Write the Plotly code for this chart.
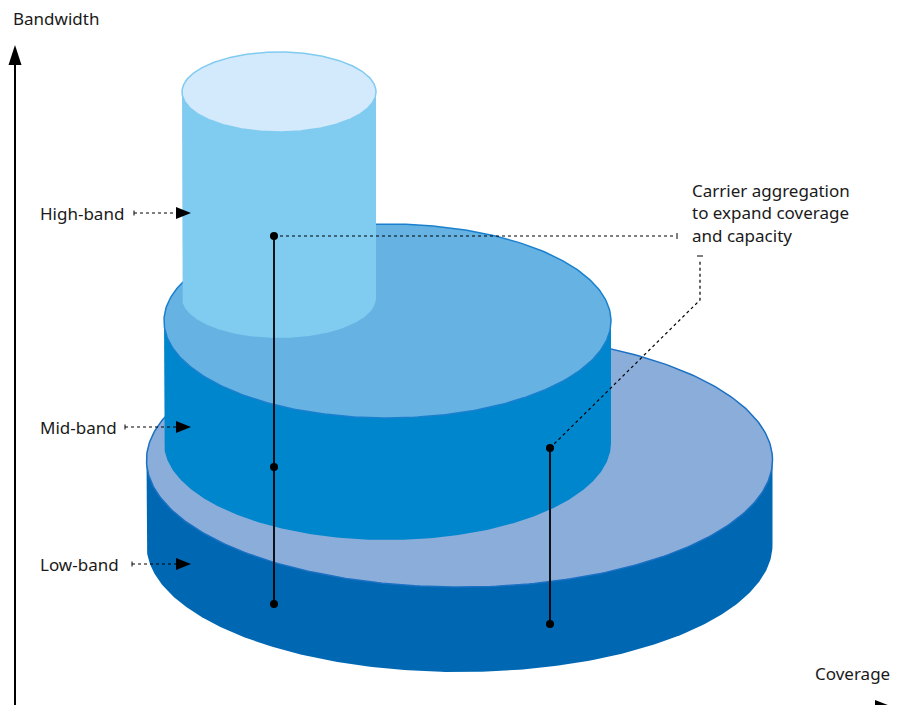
import numpy as np
import plotly.graph_objects as go

# Spectrum layers: coverage (cylinder half-width) and bandwidth (cylinder height)
bands = ["Low-band", "Mid-band", "High-band"]
coverage = [313, 223.5, 97]
bandwidth = [85, 122, 206]

# Placement of each cylinder on the canvas (centre x, centre y of top face, tilt)
center_x = [459.5, 387.5, 279]
top_y = [460, 321, 92]
tilt = [0.406, 0.434, 0.412]

side_colors = ["#0068B3", "#0086CD", "#80CBF0"]
top_colors = ["#8BADDA", "#66B2E2", "#D3E9FC"]
edge_colors = ["#1A70C2", "#1A80CE", "#80CBF0"]

label_y = [564, 427, 213]
pointer_start = [132, 125, 134]

FONT = dict(family="Noto Sans", size=17, color="#1a1a1a")

W, H = 902, 705
fig = go.Figure()


def arc(cx, cy, rx, ry, t0, t1, n=240):
    t = np.linspace(t0, t1, n)
    return cx + rx * np.cos(t), cy + ry * np.sin(t)


def poly(x, y, fill, line_color=None, width=0):
    fig.add_trace(go.Scatter(
        x=list(x), y=list(y), mode="lines", fill="toself", fillcolor=fill,
        line=dict(color=line_color or fill, width=width),
        hoverinfo="skip", showlegend=False))


def line(x, y, dash="solid", width=1.5, color="#000000"):
    fig.add_trace(go.Scatter(
        x=x, y=y, mode="lines", line=dict(color=color, width=width, dash=dash),
        hoverinfo="skip", showlegend=False))


def triangle(tip_x, tip_y, length, half, direction):
    if direction == "right":
        xs = [tip_x, tip_x - length, tip_x - length, tip_x]
        ys = [tip_y, tip_y - half, tip_y + half, tip_y]
    else:  # up
        xs = [tip_x, tip_x - half, tip_x + half, tip_x]
        ys = [tip_y, tip_y + length, tip_y + length, tip_y]
    poly(xs, ys, "#000000")


# Cylinders, bottom layer first
for i in range(3):
    cx, cyT, rx = center_x[i], top_y[i], coverage[i]
    ry = rx * tilt[i]
    cyB = cyT + bandwidth[i]
    bx, by = arc(cx, cyB, rx, ry, np.pi, 0)
    sx = np.concatenate([[cx - rx, cx - rx], bx, [cx + rx, cx + rx, cx - rx]])
    sy = np.concatenate([[cyT, cyB], by, [cyB, cyT, cyT]])
    poly(sx, sy, side_colors[i])
    tx, ty = arc(cx, cyT, rx, ry, 0, 2 * np.pi, 360)
    poly(tx, ty, top_colors[i], edge_colors[i], 1.5)

# Bandwidth axis (vertical) and coverage axis (horizontal)
line([15, 15], [H + 5, 60], width=2)
triangle(15, 45, 20, 6.5, "up")
line([0, 880], [707, 707], width=2)
triangle(893, 707, 18, 7, "right")

# Band labels with dotted pointers
for name, ly, x0 in zip(bands, label_y, pointer_start):
    line([x0, x0], [ly - 2.5, ly + 2.5], width=1)
    line([x0, 178], [ly, ly], dash="dot", width=1.2)
    triangle(191, ly, 15, 6, "right")
    fig.add_annotation(x=38, y=ly, text=name, showarrow=False,
                       xanchor="left", yanchor="middle", font=FONT)

# Carrier aggregation callout
line([274, 676], [236, 236], dash="dot", width=1.2)
line([677, 677], [233, 239], width=1)
line([550, 700, 700], [448, 300, 259], dash="dot", width=1.2)
line([697, 703], [256, 256], width=1)

# Connector stems through the layers
line([274, 274], [236, 604], width=1.8)
line([550, 550], [448, 624], width=1.8)
fig.add_trace(go.Scatter(
    x=[274, 274, 274, 550, 550], y=[236, 467, 604, 448, 624], mode="markers",
    marker=dict(color="#000000", size=8), hoverinfo="skip", showlegend=False))

callout = ["Carrier aggregation", "to expand coverage", "and capacity"]
for k, txt in enumerate(callout):
    fig.add_annotation(x=690, y=190 + k * 22.5, text=txt, showarrow=False,
                       xanchor="left", yanchor="middle", font=FONT)

fig.add_annotation(x=11, y=18, text="Bandwidth", showarrow=False,
                   xanchor="left", yanchor="middle", font=FONT)
fig.add_annotation(x=892, y=673, text="Coverage", showarrow=False,
                   xanchor="right", yanchor="middle", font=FONT)

fig.update_layout(
    width=W, height=H, margin=dict(l=0, r=0, t=0, b=0),
    paper_bgcolor="white", plot_bgcolor="white",
    xaxis=dict(range=[0, W], visible=False, fixedrange=True),
    yaxis=dict(range=[H, 0], visible=False, fixedrange=True),
    showlegend=False,
)

fig.write_html("out.html")
